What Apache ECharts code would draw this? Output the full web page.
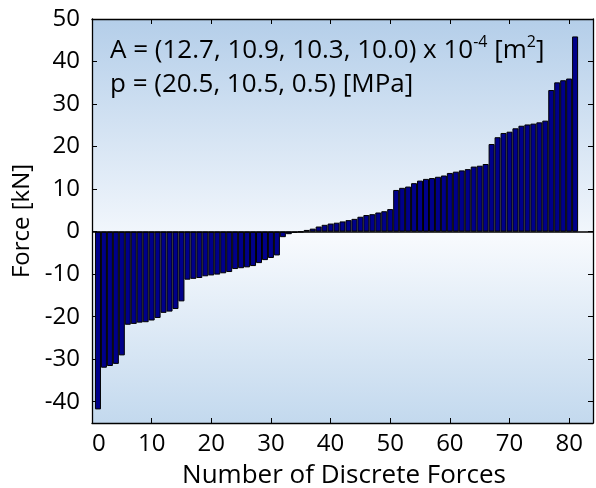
<!DOCTYPE html>
<html>
<head>
<meta charset="utf-8">
<script src="https://cdn.jsdelivr.net/npm/echarts@6/dist/echarts.min.js"></script>
<style>html,body{margin:0;padding:0;background:#fff}#c{width:596px;height:488px}</style>
</head>
<body>
<div id="c"></div>
<script>
// Bar index (1..81) and force values [kN]
var forces = [
  -41.8, -32.0, -31.6, -31.1, -29.1, -21.9, -21.7, -21.4, -21.3, -20.9,
  -20.3, -19.1, -18.8, -18.2, -16.4, -11.3, -11.1, -10.9, -10.5, -10.3,
  -10.1, -9.8, -9.5, -8.8, -8.6, -8.4, -8.1, -7.4, -6.7, -6.2,
  -5.6, -1.3, -0.6, -0.3, -0.1, 0.4, 0.7, 1.2, 1.6, 1.9,
  2.1, 2.4, 2.7, 3.0, 3.5, 3.9, 4.1, 4.5, 4.8, 5.3,
  9.8, 10.3, 10.6, 11.4, 12.0, 12.4, 12.6, 12.9, 13.2, 13.8,
  14.1, 14.4, 14.7, 15.3, 15.5, 15.9, 20.6, 22.2, 23.2, 23.5,
  24.3, 24.9, 25.2, 25.4, 25.7, 26.1, 33.3, 35.1, 35.6, 36.0,
  45.9
];
var xTicks = [0, 10, 20, 30, 40, 50, 60, 70, 80];
var yTicks = [-40, -30, -20, -10, 0, 10, 20, 30, 40, 50];
var xTitle = 'Number of Discrete Forces';
var yTitle = 'Force [kN]';

var barData = forces.map(function (v, i) { return [i + 1, v]; });
var FONT = 'Open Sans';
var chart = echarts.init(document.getElementById('c'));

function axisCommon(show) {
  return {
    axisLine: { show: true, onZero: false, lineStyle: { color: '#000', width: 1.3 } },
    splitLine: { show: false },
    axisLabel: { show: show, color: '#000', fontFamily: FONT, fontSize: 24 },
    axisTick: { show: true, inside: true, length: 5, lineStyle: { color: '#000', width: 1 } }
  };
}

var xBottom = Object.assign(axisCommon(true), {
  type: 'value', position: 'bottom', min: 0, max: 84
});
xBottom.axisTick.customValues = xTicks;
xBottom.axisLabel.customValues = xTicks;
xBottom.axisLabel.margin = 9;
xBottom.axisLabel.alignMinLabel = 'left';

var xTop = Object.assign(axisCommon(false), { type: 'value', position: 'top', min: 0, max: 84 });
xTop.axisTick.customValues = xTicks.slice(1);

var yLeft = Object.assign(axisCommon(true), {
  type: 'value', position: 'left', min: -45, max: 50,
  name: yTitle, nameLocation: 'middle', nameGap: 55,
  nameTextStyle: { color: '#000', fontFamily: FONT, fontSize: 24 }
});
yLeft.axisTick.customValues = yTicks;
yLeft.axisLabel.customValues = yTicks;
yLeft.axisLabel.margin = 12;

var yRight = Object.assign(axisCommon(false), { type: 'value', position: 'right', min: -45, max: 50 });
yRight.axisTick.customValues = yTicks;

chart.setOption({
  animation: false,
  grid: {
    left: 92, right: 3, top: 19, bottom: 65, show: true,
    containLabel: false, outerBoundsMode: 'none',
    borderColor: '#000', borderWidth: 0,
    backgroundColor: new echarts.graphic.LinearGradient(0, 0, 0, 1, [
      { offset: 0, color: '#b4cee9' },
      { offset: 0.526, color: '#f1f6fc' },
      { offset: 0.527, color: '#f9fbfe' },
      { offset: 1, color: '#c3d9ee' }
    ])
  },
  xAxis: [xBottom, xTop],
  yAxis: [yLeft, yRight],
  series: [{
    type: 'bar',
    xAxisIndex: 0, yAxisIndex: 0,
    data: barData,
    barWidth: 6,
    itemStyle: { color: '#00008a', borderColor: '#000', borderWidth: 1 },
    markLine: {
      silent: true, symbol: 'none', label: { show: false },
      lineStyle: { color: '#000', width: 1.5, type: 'solid' },
      data: [{ yAxis: 0 }]
    }
  }],
  graphic: [
    {
      type: 'text', left: 110, top: 34, z: 100,
      style: {
        text: '{a|A = (12.7, 10.9, 10.3, 10.0) x 10}{s|-4}{a| [m}{s|2}{a|]}',
        fill: '#000',
        rich: {
          a: { fontFamily: FONT, fontSize: 26, lineHeight: 34, fill: '#000' },
          s: { fontFamily: FONT, fontSize: 16, lineHeight: 34, verticalAlign: 'top', fill: '#000' }
        }
      }
    },
    {
      type: 'text', left: 110, top: 72, z: 100,
      style: {
        text: 'p = (20.5, 10.5, 0.5) [MPa]',
        fill: '#000', font: '26px "Open Sans"'
      }
    },
    {
      type: 'text', x: 344, y: 476, z: 100,
      style: {
        text: xTitle, fill: '#000', font: '26px "Open Sans"',
        align: 'center', verticalAlign: 'middle'
      }
    }
  ]
});
</script>
</body>
</html>
